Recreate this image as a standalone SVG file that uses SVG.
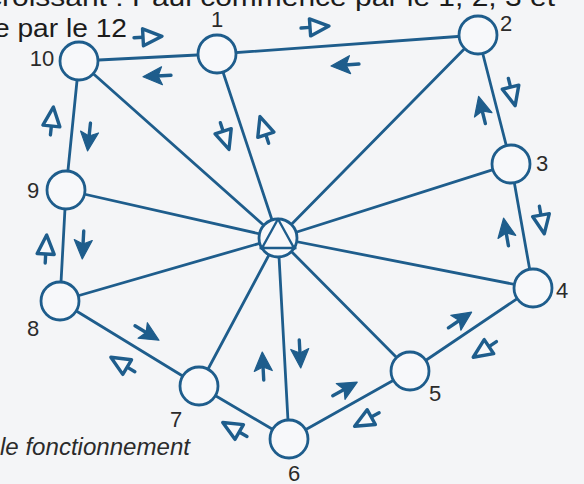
<svg xmlns="http://www.w3.org/2000/svg" xmlns:xlink="http://www.w3.org/1999/xlink" width="584" height="484" viewBox="0 0 584 484">
<style>
.edge{stroke:#1e5d8c;stroke-width:2.8;fill:none;stroke-linecap:round}
.node{fill:#f7f8fa;stroke:#1e5d8c;stroke-width:2.8}
.lbl{font-family:"Liberation Sans",Arial,sans-serif;font-size:22px;fill:#2b2b2b;text-anchor:middle}
.txt{font-family:"Liberation Sans",Arial,sans-serif;font-size:26px;fill:#1c1c1c}
.it{font-family:"Liberation Sans",Arial,sans-serif;font-size:24px;font-style:italic;fill:#2b2b2b}
.fa{fill:#1e5d8c;stroke:#1e5d8c;stroke-width:1.2;stroke-linejoin:round}
.ha{fill:#f7f8fa;stroke:#1e5d8c;stroke-width:3.4;stroke-linejoin:round}
.tail{stroke:#1e5d8c;stroke-width:3.4;stroke-linecap:round}
</style>
<defs>
<g id="fa">
<line class="tail" x1="0" y1="0" x2="-14" y2="0"/>
<path class="fa" d="M14,0 L-5,-9 L-1,0 L-5,9 Z"/>
</g>
<g id="ha">
<line class="tail" x1="-6" y1="0" x2="-15" y2="0"/>
<path class="ha" d="M13,0 L-6,-8.5 L-6,8.5 Z"/>
</g>
</defs>
<rect width="584" height="484" fill="#f4f5f7"/>
<text class="txt" x="-13" y="6" textLength="568" lengthAdjust="spacingAndGlyphs">croissant : Paul commence par le 1, 2, 3 et</text>
<text class="txt" x="-6" y="37" textLength="133" lengthAdjust="spacingAndGlyphs">e par le 12</text>
<text class="it" x="0" y="455" textLength="190" lengthAdjust="spacingAndGlyphs">le fonctionnement</text>
<g id="connectors">
<line class="edge" x1="217" y1="54" x2="478" y2="35"/>
<line class="edge" x1="478" y1="35" x2="511" y2="164"/>
<line class="edge" x1="511" y1="164" x2="533" y2="288"/>
<line class="edge" x1="533" y1="288" x2="410" y2="371"/>
<line class="edge" x1="410" y1="371" x2="289" y2="439"/>
<line class="edge" x1="289" y1="439" x2="199" y2="386"/>
<line class="edge" x1="199" y1="386" x2="60" y2="301"/>
<line class="edge" x1="60" y1="301" x2="66" y2="190"/>
<line class="edge" x1="66" y1="190" x2="79" y2="61"/>
<line class="edge" x1="79" y1="61" x2="217" y2="54"/>
<line class="edge" x1="278" y1="238" x2="217" y2="54"/>
<line class="edge" x1="278" y1="238" x2="478" y2="35"/>
<line class="edge" x1="278" y1="238" x2="511" y2="164"/>
<line class="edge" x1="278" y1="238" x2="533" y2="288"/>
<line class="edge" x1="278" y1="238" x2="410" y2="371"/>
<line class="edge" x1="278" y1="238" x2="289" y2="439"/>
<line class="edge" x1="278" y1="238" x2="199" y2="386"/>
<line class="edge" x1="278" y1="238" x2="60" y2="301"/>
<line class="edge" x1="278" y1="238" x2="66" y2="190"/>
<line class="edge" x1="278" y1="238" x2="79" y2="61"/>
<use xlink:href="#ha" transform="translate(149,37) rotate(-3)"/>
<use xlink:href="#fa" transform="translate(157,76) rotate(177)"/>
<use xlink:href="#ha" transform="translate(316,27) rotate(-4)"/>
<use xlink:href="#fa" transform="translate(345,65) rotate(176)"/>
<use xlink:href="#ha" transform="translate(512,93) rotate(76)"/>
<use xlink:href="#fa" transform="translate(482,110) rotate(256)"/>
<use xlink:href="#ha" transform="translate(542,221) rotate(80)"/>
<use xlink:href="#fa" transform="translate(506,232) rotate(260)"/>
<use xlink:href="#fa" transform="translate(460,320) rotate(-34)"/>
<use xlink:href="#ha" transform="translate(484,350) rotate(146)"/>
<use xlink:href="#fa" transform="translate(345,389) rotate(-29)"/>
<use xlink:href="#ha" transform="translate(366,420) rotate(151)"/>
<use xlink:href="#ha" transform="translate(234,429) rotate(210)"/>
<use xlink:href="#ha" transform="translate(122,364) rotate(211)"/>
<use xlink:href="#fa" transform="translate(147,333) rotate(31)"/>
<use xlink:href="#ha" transform="translate(46,248) rotate(-87)"/>
<use xlink:href="#fa" transform="translate(83,245) rotate(93)"/>
<use xlink:href="#ha" transform="translate(52,120) rotate(-84)"/>
<use xlink:href="#fa" transform="translate(89,137) rotate(96)"/>
<use xlink:href="#ha" transform="translate(225,137) rotate(72)"/>
<use xlink:href="#ha" transform="translate(264,129) rotate(252)"/>
<use xlink:href="#fa" transform="translate(300,354) rotate(87)"/>
<use xlink:href="#fa" transform="translate(263,366) rotate(267)"/>
</g>
<g id="node1"><circle class="node" cx="217" cy="54" r="19"/><text class="lbl" x="217" y="27">1</text></g>
<g id="node2"><circle class="node" cx="478" cy="35" r="19"/><text class="lbl" x="506" y="31">2</text></g>
<g id="node3"><circle class="node" cx="511" cy="164" r="19"/><text class="lbl" x="542" y="171">3</text></g>
<g id="node4"><circle class="node" cx="533" cy="288" r="19"/><text class="lbl" x="562" y="298">4</text></g>
<g id="node5"><circle class="node" cx="410" cy="371" r="19"/><text class="lbl" x="435" y="401">5</text></g>
<g id="node6"><circle class="node" cx="289" cy="439" r="19"/><text class="lbl" x="294" y="481">6</text></g>
<g id="node7"><circle class="node" cx="199" cy="386" r="19"/><text class="lbl" x="176" y="427">7</text></g>
<g id="node8"><circle class="node" cx="60" cy="301" r="19"/><text class="lbl" x="33" y="336">8</text></g>
<g id="node9"><circle class="node" cx="66" cy="190" r="19"/><text class="lbl" x="33" y="198">9</text></g>
<g id="node10"><circle class="node" cx="79" cy="61" r="19"/><text class="lbl" x="42" y="66">10</text></g>
<g id="center">
<circle class="node" cx="278" cy="238" r="19"/>
<path d="M278,219 L262,248 L294,248 Z M259.5,248 L296.5,248" fill="none" stroke="#1e5d8c" stroke-width="2.4" stroke-linejoin="round"/>
<circle cx="262.5" cy="248" r="2.2" fill="#1e5d8c"/>
<circle cx="293.5" cy="248" r="2.2" fill="#1e5d8c"/>
</g>
</svg>
